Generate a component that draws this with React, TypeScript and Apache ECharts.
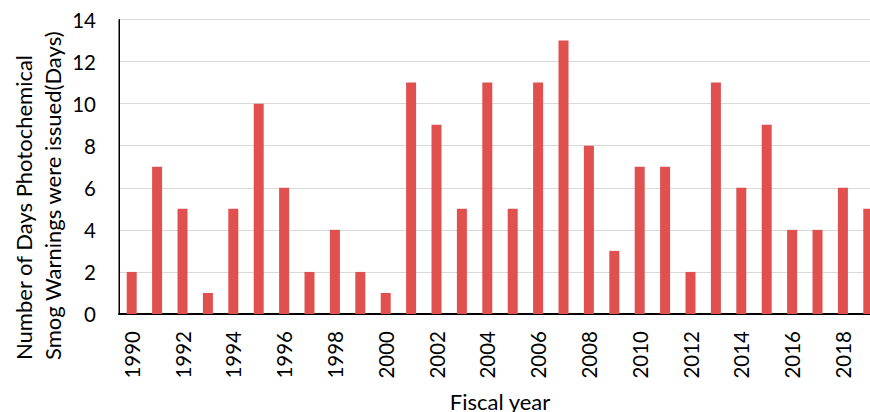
import React, { useEffect, useRef } from "react";
import * as echarts from "echarts";

const years = [
  "1990", "1991", "1992", "1993", "1994", "1995", "1996", "1997", "1998", "1999",
  "2000", "2001", "2002", "2003", "2004", "2005", "2006", "2007", "2008", "2009",
  "2010", "2011", "2012", "2013", "2014", "2015", "2016", "2017", "2018", "2019",
];
const warningDays = [
  2, 7, 5, 1, 5, 10, 6, 2, 4, 2,
  1, 11, 9, 5, 11, 5, 11, 13, 8, 3,
  7, 7, 2, 11, 6, 9, 4, 4, 6, 5,
];
const yTitleLines = ["Number of Days Photochemical", "Smog Warnings were issued(Days)"];
const xTitle = "Fiscal year";

const FONT = "Lato, 'Open Sans', sans-serif";

export default function App() {
  const ref = useRef<HTMLDivElement>(null);
  useEffect(() => {
    if (!ref.current) return;
    const chart = echarts.init(ref.current, null, { renderer: "svg" });
    chart.setOption({
      animation: false,
      textStyle: { fontFamily: FONT },
      grid: {
        left: 119,
        top: 19.5,
        height: 294.5,
        width: 762,
        containLabel: false,
        outerBoundsMode: "none",
        show: true,
        borderColor: "#000",
        borderWidth: 1,
      },
      xAxis: {
        type: "category",
        data: years,
        name: xTitle,
        nameLocation: "middle",
        nameGap: 76,
        nameMoveOverlap: false,
        nameTextStyle: { fontSize: 22, color: "#000", fontFamily: FONT },
        axisLine: { show: true, lineStyle: { color: "#000", width: 2 } },
        axisTick: { show: false },
        axisLabel: {
          rotate: 90,
          interval: 1,
          fontSize: 20.5,
          color: "#000",
          margin: 17,
          fontFamily: FONT,
        },
      },
      yAxis: {
        type: "value",
        min: 0,
        max: 14,
        interval: 2,
        axisLine: { show: true, lineStyle: { color: "#000", width: 1 } },
        axisTick: { show: false },
        splitLine: { lineStyle: { color: "#d9d9d9", width: 1 } },
        axisLabel: { fontSize: 20.5, color: "#000", margin: 23, fontFamily: FONT },
      },
      graphic: yTitleLines.map((t, i) => ({
        type: "text",
        x: 23 + i * 29,
        y: 360,
        rotation: Math.PI / 2,
        style: {
          text: t,
          fontSize: 22,
          fill: "#000",
          fontFamily: FONT,
          textAlign: "left",
          textVerticalAlign: "middle",
        },
      })),
      series: [
        {
          type: "bar",
          data: warningDays,
          barWidth: 10,
          itemStyle: { color: "#e0504f" },
        },
      ],
    });
    return () => chart.dispose();
  }, []);
  return (
    <div
      ref={ref}
      style={{ position: "fixed", left: 0, top: 0, width: 870, height: 412, background: "#fff" }}
    />
  );
}
